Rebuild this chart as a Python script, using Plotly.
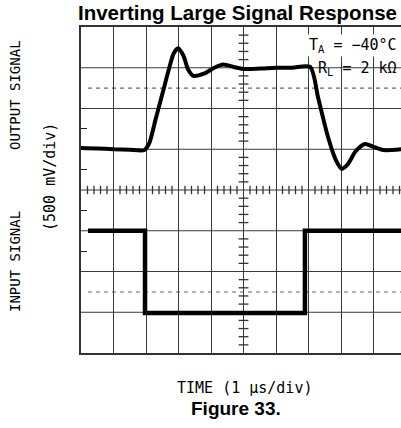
import plotly.graph_objects as go

# ---- data (divisions: x = 1 us/div, y = 500 mV/div) ----
out_t = [0.0, 0.5, 1.0, 1.5, 1.95, 2.1, 2.3, 2.5, 2.7, 2.85, 2.99, 3.15, 3.3, 3.46, 3.8, 4.1, 4.38, 4.7, 5.0, 5.5, 6.0, 6.5, 7.05, 7.3, 7.6, 7.85, 8.02, 8.2, 8.45, 8.74, 9.0, 9.3, 9.85]
out_v = [1.03, 1.02, 1.0, 0.99, 0.98, 1.15, 1.75, 2.35, 2.95, 3.35, 3.48, 3.3, 2.95, 2.8, 2.86, 3.0, 3.08, 3.02, 2.97, 2.98, 3.0, 3.0, 3.02, 2.25, 1.3, 0.72, 0.52, 0.62, 0.95, 1.13, 1.06, 0.98, 1.0]

in_t = [0.215, 1.97, 1.97, 6.89, 6.89, 9.85]
in_v = [-1.0, -1.0, -3.02, -3.02, -1.0, -1.0]

title_text = "Inverting Large Signal Response"
fig_caption = "Figure 33."
x_label = "TIME (1 \u00b5s/div)"
note1 = "T<sub>A</sub> = \u221240\u00b0C"
note2 = "R<sub>L</sub> = 2 k\u03a9"

# ---- geometry ----
W, H = 401, 428
L, T, B = 81, 27, 75
XMAX = (W - L) / 32.5
PW, PH = W - L, H - T - B

def px(x):
    return (x - L) / PW

def py(y):
    return (H - B - y) / PH

GRID = "#3a3a3a"
MONO = "DejaVu Sans Mono, Liberation Mono, monospace"
BOLD = "Liberation Sans, Arial, sans-serif"

fig = go.Figure()

# minor ticks on centre axes (graticule decoration)
minor_y = [k / 5 for k in range(-20, 21) if k % 5 != 0]
minor_x = [k / 5 for k in range(0, 50) if k % 5 != 0]
fig.add_trace(go.Scatter(x=[5] * len(minor_y), y=minor_y, mode="markers",
                         marker=dict(symbol="line-ew", size=7, line=dict(width=1.3, color="#333")),
                         hoverinfo="skip", showlegend=False))
fig.add_trace(go.Scatter(x=minor_x, y=[0] * len(minor_x), mode="markers",
                         marker=dict(symbol="line-ns", size=6, line=dict(width=1.3, color="#333")),
                         hoverinfo="skip", showlegend=False))

# waveforms
fig.add_trace(go.Scatter(x=out_t, y=out_v, mode="lines",
                         line=dict(color="black", width=4, shape="spline", smoothing=0.7),
                         showlegend=False))
fig.add_trace(go.Scatter(x=in_t, y=in_v, mode="lines",
                         line=dict(color="black", width=4.5),
                         showlegend=False))

# dashed reference lines
fig.add_shape(type="line", x0=0.215, x1=XMAX, y0=2.5, y1=2.5, layer="below",
              line=dict(color="#666", width=1.3, dash="4px,4px"))
fig.add_shape(type="line", x0=0.215, x1=XMAX, y0=-2.5, y1=-2.5, layer="below",
              line=dict(color="#999", width=1.5, dash="4px,4px"))

fig.update_layout(
    width=W, height=H,
    margin=dict(l=L, r=0, t=T, b=B),
    paper_bgcolor="white", plot_bgcolor="white",
    showlegend=False,
    xaxis=dict(range=[0, XMAX], tick0=0, dtick=1, showgrid=True, gridcolor=GRID, gridwidth=1,
               showticklabels=False, ticks="", zeroline=False,
               showline=True, linecolor="#333", linewidth=2, mirror=True, fixedrange=True),
    yaxis=dict(range=[-4, 4], showgrid=False, showticklabels=False, zeroline=False,
               ticks="inside", tickmode="array", tickvals=[1.5, 0.5, -0.5, -1.5],
               ticklen=6, tickwidth=1.3, tickcolor="#222",
               showline=True, linecolor="#333", linewidth=2, mirror=False, fixedrange=True),
)
for yv in [-3, -2, -1, 0, 1, 2, 3]:
    fig.add_shape(type="line", xref="x", yref="y", x0=0, x1=XMAX, y0=yv, y1=yv,
                  layer="below", line=dict(color=GRID if yv != 0 else "#777", width=1 if yv != 0 else 1.5))

ann = []
ann.append(dict(text=f"<b>{title_text}</b>", x=px(237), y=py(12), xref="paper", yref="paper",
                showarrow=False, xanchor="center", yanchor="middle",
                font=dict(family=BOLD, size=20.5, color="black")))
ann.append(dict(text=f"<b>{fig_caption}</b>", x=px(236), y=py(408), xref="paper", yref="paper",
                showarrow=False, xanchor="center", yanchor="middle",
                font=dict(family=BOLD, size=19, color="black")))
ann.append(dict(text=x_label, x=px(244), y=py(388), xref="paper", yref="paper",
                showarrow=False, xanchor="center", yanchor="middle",
                font=dict(family=MONO, size=15, color="black")))
ann.append(dict(text=note1, x=px(399), y=py(45), xref="paper", yref="paper",
                showarrow=False, xanchor="right", yanchor="middle", bgcolor="white",
                font=dict(family=MONO, size=15, color="black")))
ann.append(dict(text=note2, x=px(399), y=py(68), xref="paper", yref="paper",
                showarrow=False, xanchor="right", yanchor="middle",
                font=dict(family=MONO, size=15, color="black")))
ann.append(dict(text="OUTPUT SIGNAL", x=px(15), y=py(95), xref="paper", yref="paper",
                showarrow=False, xanchor="center", yanchor="middle", textangle=-90,
                font=dict(family=MONO, size=14, color="black")))
ann.append(dict(text="INPUT SIGNAL", x=px(15), y=py(262), xref="paper", yref="paper",
                showarrow=False, xanchor="center", yanchor="middle", textangle=-90,
                font=dict(family=MONO, size=14, color="black")))
ann.append(dict(text="(500 mV/div)", x=px(50), y=py(177), xref="paper", yref="paper",
                showarrow=False, xanchor="center", yanchor="middle", textangle=-90,
                font=dict(family=MONO, size=15, color="black")))
fig.update_layout(annotations=ann)

fig.write_html("out.html", config={"displayModeBar": False},
               post_script="document.body.style.margin='0';document.body.style.overflow='hidden';")
